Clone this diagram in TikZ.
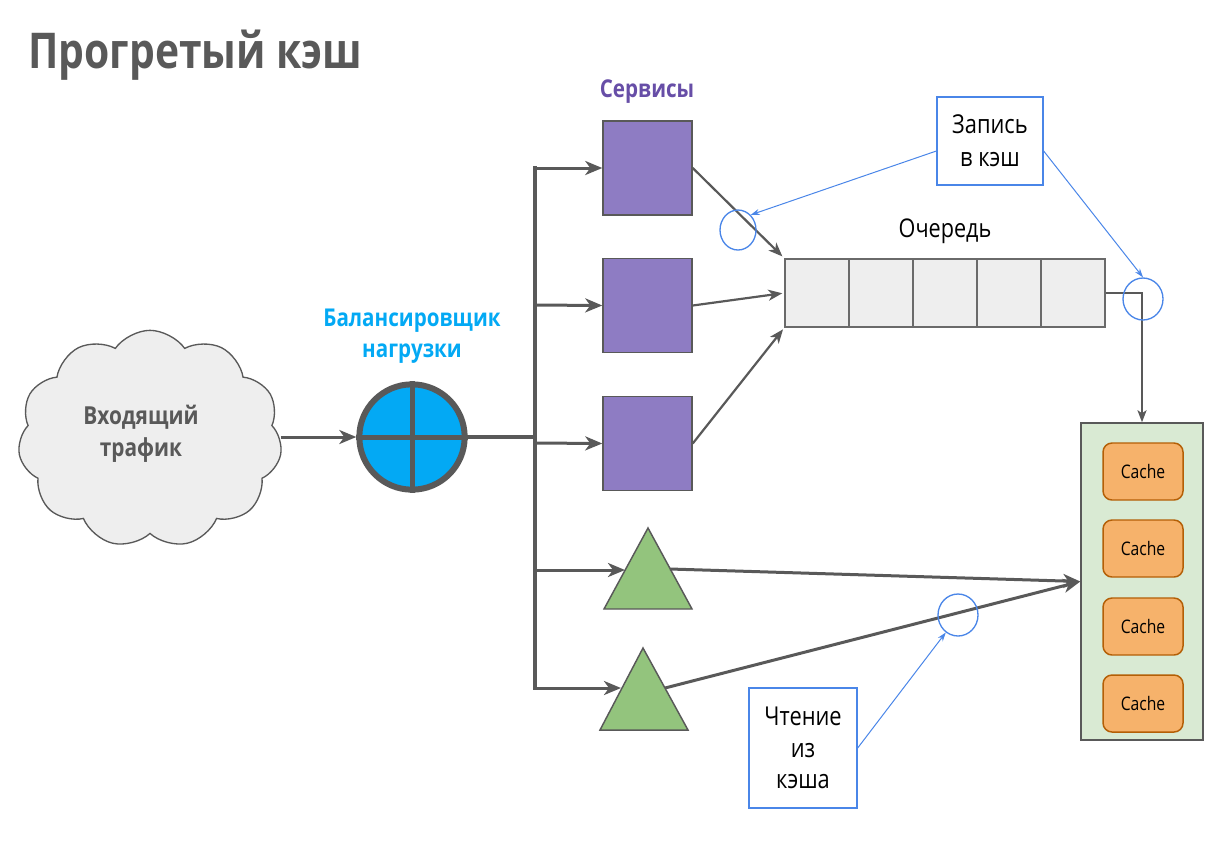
\documentclass[tikz,border=0pt]{standalone}
\usepackage{fontspec}
\setmainfont{Open Sans}[FakeStretch=0.84]
\usetikzlibrary{shapes.symbols,shapes.geometric,arrows.meta}
\definecolor{dgray}{HTML}{595959}
\definecolor{svcfill}{HTML}{8E7CC3}
\definecolor{svctext}{HTML}{674EA7}
\definecolor{lbblue}{HTML}{03A9F4}
\definecolor{trigreen}{HTML}{93C47D}
\definecolor{cachefill}{HTML}{F6B26B}
\definecolor{cachedraw}{HTML}{B45F06}
\definecolor{contfill}{HTML}{D9EAD3}
\definecolor{noteblue}{HTML}{4A86E8}
\definecolor{qfill}{HTML}{EEEEEE}
\begin{document}
\begin{tikzpicture}[x=0.75pt,y=-0.75pt,
  svc/.style={draw=dgray,line width=1.1pt,fill=svcfill,minimum width=66.75pt,minimum height=70.5pt,inner sep=0},
  qcell/.style={draw=dgray!90,line width=1.1pt,fill=qfill,minimum width=48pt,minimum height=51pt,inner sep=0},
  cachebox/.style={draw=cachedraw,line width=1.1pt,fill=cachefill,rounded corners=6.75pt,minimum width=60pt,minimum height=42.75pt,inner sep=0,font=\fontsize{14}{16}\selectfont},
  bus/.style={draw=dgray,line width=3pt},
  arr/.style={draw=dgray,line width=2.25pt,-{Stealth[length=12.75pt,width=10.5pt,inset=3.75pt]}},
  sarr/.style={draw=dgray,line width=1.65pt,-{Stealth[length=10.5pt,width=8.25pt,inset=3pt]}},
  barr/.style={draw=noteblue,line width=0.75pt,-{Stealth[length=6.75pt,width=4.5pt]}},
  bcirc/.style={draw=noteblue,line width=1pt,ellipse,inner sep=0},
  note/.style={draw=noteblue,line width=1pt,fill=white,inner sep=0,align=center,font=\fontsize{19.5}{25}\selectfont},
  boldlbl/.style={font=\fontsize{18.4}{23.5}\selectfont\bfseries,align=center,inner sep=0},
  tri/.style={draw=dgray,line width=1.1pt,fill=trigreen}]
\useasboundingbox (0,0) rectangle (1230,840);

% title
\node[anchor=base west,inner sep=0,text=dgray,font=\fontsize{37}{44}\selectfont\bfseries,xscale=0.985] (title) at (28,68) {Прогретый кэш};

% cloud
\node[cloud,cloud puffs=11,cloud puff arc=110,aspect=1.2,draw=dgray,line width=1pt,fill=qfill,
  minimum width=198pt,minimum height=163pt,inner sep=0] (cloud) at (150,439) {};
\node[boldlbl,text=dgray,font=\fontsize{18.6}{24}\selectfont\bfseries] (cloudtxt) at (141,434) {Входящий\\трафик};

% balancer
\node[boldlbl,text=lbblue] (lbtxt) at (412,336) {Балансировщик\\нагрузки};
\node[circle,draw=dgray,line width=4.5pt,fill=lbblue,minimum size=79pt,inner sep=0] (lb) at (412,437) {};
\draw[dgray,line width=3.75pt] (lb.north) -- (lb.south);
\draw[dgray,line width=3.75pt] (lb.west) -- (lb.east);

\draw[arr] (lb.west -| cloud.east) -- (lb.west);

% bus
\coordinate (b1) at (535,168);
\coordinate (b2) at (535,305);
\coordinate (b3) at (535,443);
\coordinate (b4) at (535,570);
\coordinate (b5) at (535,688);
\draw[bus] (lb.east) -- (lb.east -| b1);
\draw[bus,line cap=rect] (b1) -- (b5);

% services
\node[boldlbl,text=svctext] (svctxt) at (647,92) {Сервисы};
\node[svc] (s1) at (647.5,168) {};
\node[svc] (s2) at (647.5,305.5) {};
\node[svc] (s3) at (647.5,443.5) {};

\draw[arr] (b1) -- (s1.west);
\draw[arr] (b2) -- (s2.west);
\draw[arr] (b3) -- (s3.west);

% triangles
\draw[tri] (648,528) coordinate (t1top) -- (692,609) -- (604,609) -- cycle;
\draw[tri] (643,648) coordinate (t2top) -- (688,730) -- (600,730) -- cycle;
\coordinate (t1l) at (625,570);
\coordinate (t1r) at (670,569);
\coordinate (t2l) at (621,688);
\coordinate (t2r) at (665,688);
\draw[arr] (b4) -- (t1l);
\draw[arr] (b5) -- (t2l);

% queue
\node[font=\fontsize{19.3}{22}\selectfont,inner sep=0] (qtxt) at (945,231) {Очередь};
\node[qcell] (q1) at (817,293) {};
\node[qcell] (q2) at (881,293) {};
\node[qcell] (q3) at (945,293) {};
\node[qcell] (q4) at (1009,293) {};
\node[qcell] (q5) at (1073,293) {};

\draw[sarr,shorten >=2pt] (s1.east) -- (q1.north west);
\draw[sarr,shorten >=1.5pt] (s2.east) -- (q1.west);
\draw[sarr,shorten >=1.5pt] (s3.east) -- (q1.south west);

% cache container
\node[draw=dgray,line width=1.1pt,fill=contfill,minimum width=91.5pt,minimum height=237.75pt,inner sep=0] (cont) at (1142,581.5) {};
\node[cachebox] (c1box) at (1143,471.5) {Cache};
\node[cachebox] (c2box) at (1143,548.5) {Cache};
\node[cachebox] (c3box) at (1143,626.5) {Cache};
\node[cachebox] (c4box) at (1143,703.5) {Cache};

\draw[draw=dgray,line width=1.65pt,-{Stealth[length=9pt,width=6.75pt,inset=2.25pt]}] (q5.east) -| (cont.north);

\draw[arr] (t1r) -- (cont.west);
\draw[arr] (t2r) -- (cont.west);

% blue circles
\node[bcirc,minimum width=27pt,minimum height=30pt] (e1) at (738,230) {};
\node[bcirc,minimum width=30pt,minimum height=31.5pt] (e2) at (1143,299) {};
\node[bcirc,minimum width=30pt,minimum height=31.5pt] (e3) at (958,615) {};

% notes
\node[note,minimum width=79.5pt,minimum height=66pt] (wb) at (990,141) {Запись\\в кэш};
\node[note,minimum width=81pt,minimum height=90pt,font=\fontsize{19.5}{23.5}\selectfont] (rb) at (803,748) {Чтение\\из\\кэша};

\draw[barr] ([yshift=-7.5pt]wb.west) -- (e1.50);
\draw[barr] ([yshift=-7.5pt]wb.east) -- (e2.north);
\draw[barr] (rb.east) -- (e3.235);
\end{tikzpicture}
\end{document}
